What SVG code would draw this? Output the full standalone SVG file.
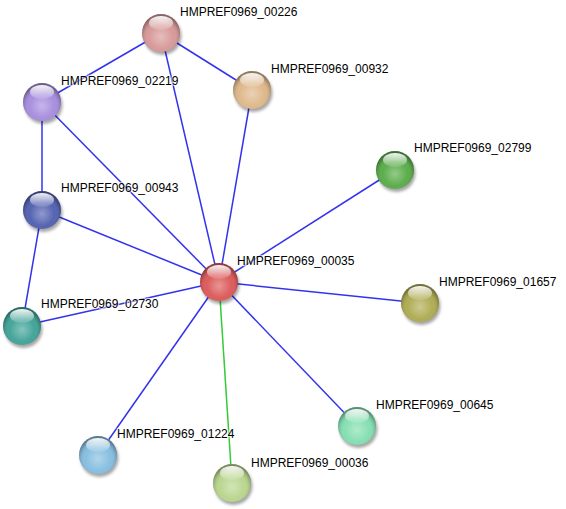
<svg xmlns="http://www.w3.org/2000/svg" width="566" height="509" viewBox="0 0 566 509">
<defs>
<radialGradient id="shade" cx="0.5" cy="0.6" r="0.55">
<stop offset="0" stop-color="#fff" stop-opacity="0.35"/>
<stop offset="0.6" stop-color="#fff" stop-opacity="0"/>
<stop offset="0.85" stop-color="#000" stop-opacity="0.12"/>
<stop offset="1" stop-color="#000" stop-opacity="0.35"/>
</radialGradient>
<linearGradient id="hl" x1="0" y1="0" x2="0" y2="1">
<stop offset="0" stop-color="#fff" stop-opacity="0.95"/>
<stop offset="1" stop-color="#fff" stop-opacity="0.1"/>
</linearGradient>
<filter id="sh" x="-50%" y="-50%" width="200%" height="200%">
<feGaussianBlur stdDeviation="1.5"/>
</filter>
<g id="ball">
<circle cx="1.5" cy="3" r="19" fill="#000" opacity="0.35" filter="url(#sh)"/>
<circle r="19" fill="inherit"/>
<circle r="19" fill="url(#shade)"/>
<ellipse cx="0" cy="-10" rx="12" ry="7" fill="url(#hl)"/>
</g>
</defs>
<style>
text{font-family:"Liberation Sans",Arial,sans-serif;font-size:12px;fill:#000;stroke:#fff;stroke-opacity:0.6;stroke-width:2.5;paint-order:stroke;stroke-linejoin:round}
.e{stroke:#3333ee;stroke-width:1.5;fill:none}
.g{stroke:#33cc33;stroke-width:1.5;fill:none}
</style>
<rect width="566" height="509" fill="#fff"/>
<g id="edges">
<line class="e" x1="161" y1="33" x2="42" y2="102"/>
<line class="e" x1="161" y1="33" x2="252" y2="90"/>
<line class="e" x1="161" y1="33" x2="219" y2="282"/>
<line class="e" x1="252" y1="90" x2="219" y2="282"/>
<line class="e" x1="42" y1="102" x2="42" y2="210"/>
<line class="e" x1="42" y1="102" x2="219" y2="282"/>
<line class="e" x1="42" y1="210" x2="219" y2="282"/>
<line class="e" x1="42" y1="210" x2="22" y2="326"/>
<line class="e" x1="22" y1="326" x2="219" y2="282"/>
<line class="e" x1="395" y1="170" x2="219" y2="282"/>
<line class="e" x1="420" y1="303" x2="219" y2="282"/>
<line class="e" x1="357" y1="426" x2="219" y2="282"/>
<line class="e" x1="98" y1="455" x2="219" y2="282"/>
<line class="g" x1="219" y1="282" x2="232" y2="483"/>
</g>
<g id="n00226"><use href="#ball" x="161" y="33" fill="#d89a9a"/><text x="180" y="16">HMPREF0969_00226</text></g>
<g id="n00932"><use href="#ball" x="252" y="90" fill="#dfb98c"/><text x="271" y="73">HMPREF0969_00932</text></g>
<g id="n02219"><use href="#ball" x="42" y="102" fill="#a98fdf"/><text x="61" y="85">HMPREF0969_02219</text></g>
<g id="n02799"><use href="#ball" x="395" y="170" fill="#5cad4c"/><text x="414" y="152">HMPREF0969_02799</text></g>
<g id="n00943"><use href="#ball" x="42" y="210" fill="#5564b2"/><text x="61" y="192">HMPREF0969_00943</text></g>
<g id="n00035"><use href="#ball" x="219" y="282" fill="#dd5c5c"/><text x="237" y="265">HMPREF0969_00035</text></g>
<g id="n01657"><use href="#ball" x="420" y="303" fill="#b0ad55"/><text x="439" y="286">HMPREF0969_01657</text></g>
<g id="n02730"><use href="#ball" x="22" y="326" fill="#45a59a"/><text x="41" y="308">HMPREF0969_02730</text></g>
<g id="n00645"><use href="#ball" x="357" y="426" fill="#86dfb2"/><text x="376" y="409">HMPREF0969_00645</text></g>
<g id="n01224"><use href="#ball" x="98" y="455" fill="#88bfe0"/><text x="117" y="438">HMPREF0969_01224</text></g>
<g id="n00036"><use href="#ball" x="232" y="483" fill="#bad690"/><text x="251" y="467">HMPREF0969_00036</text></g>
</svg>
